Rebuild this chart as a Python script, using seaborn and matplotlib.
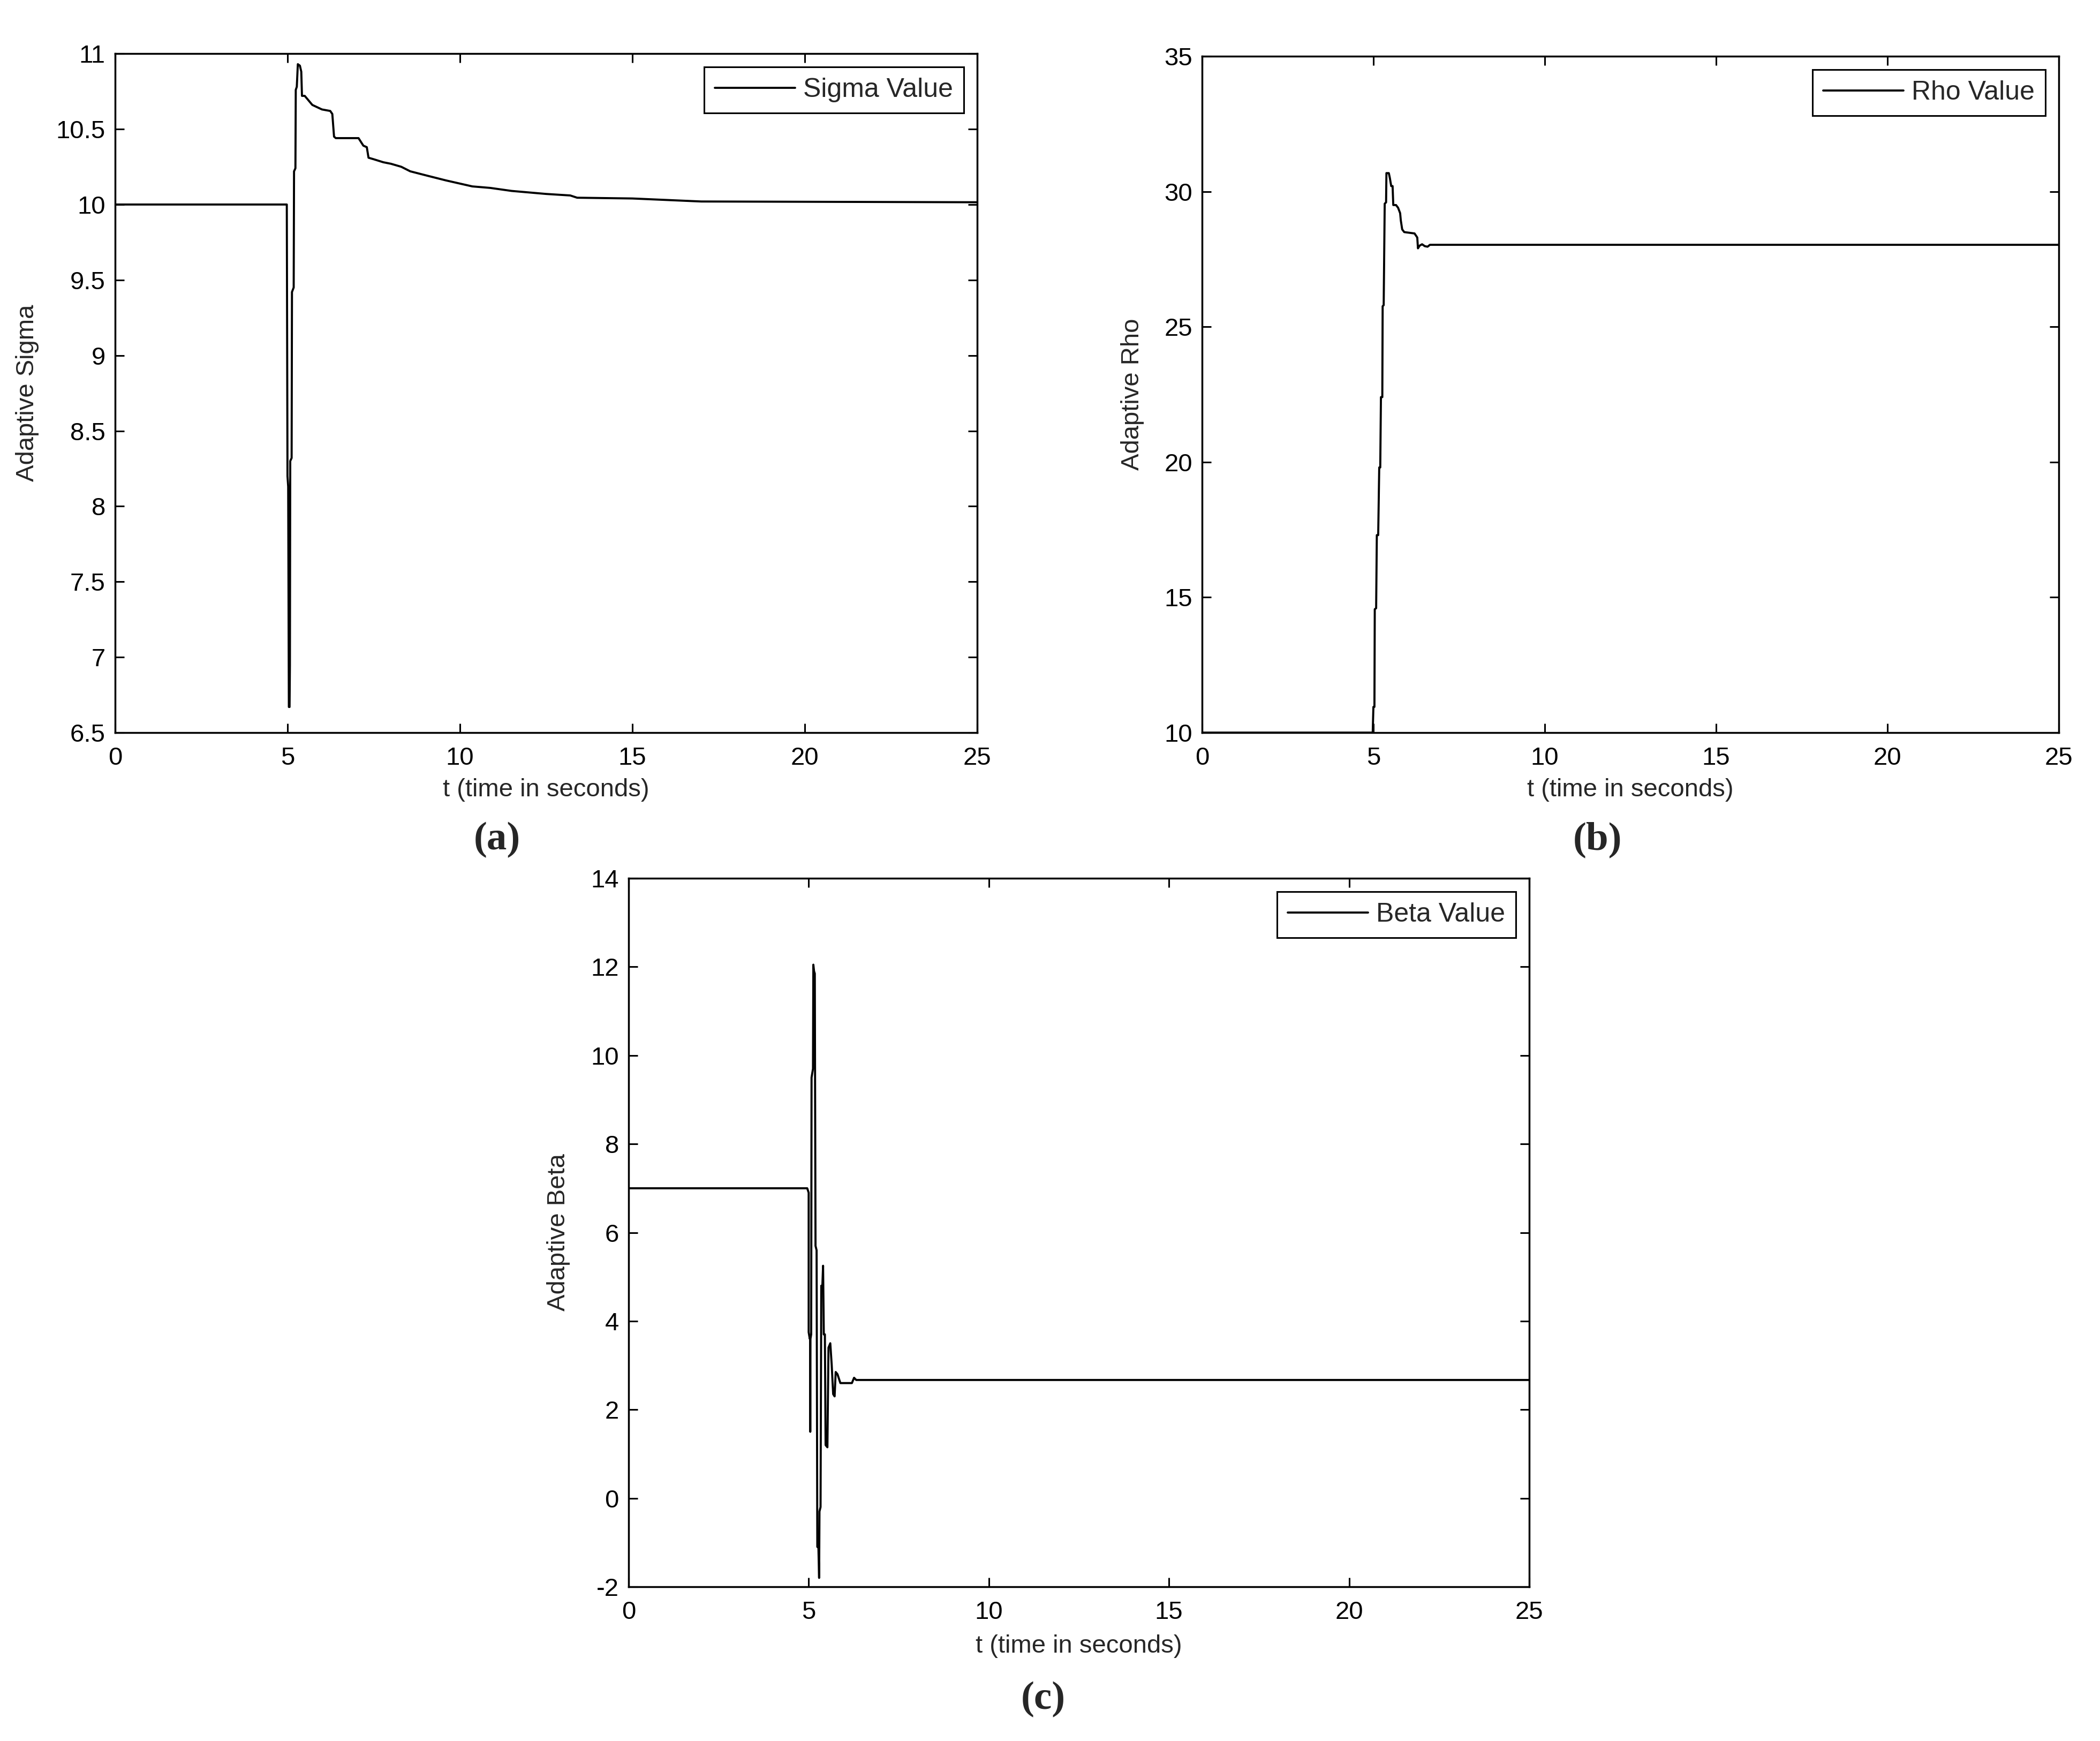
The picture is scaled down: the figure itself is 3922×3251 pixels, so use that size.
import numpy as np
import pandas as pd
import seaborn as sns
import matplotlib.pyplot as plt
from matplotlib.ticker import FormatStrFormatter

# adaptive sigma (panel a)
sigma_t = [0, 4.98, 5.0, 5.02, 5.04, 5.06, 5.07, 5.08, 5.12, 5.13, 5.18, 5.19, 5.23, 5.24,
           5.27, 5.3, 5.36, 5.4, 5.42, 5.5, 5.72, 6.0, 6.24, 6.3, 6.35, 6.4, 6.65, 7.06, 7.2,
           7.3, 7.35, 7.5, 7.78, 8.0, 8.3, 8.56, 9.07, 9.59, 10.36, 10.88, 11.5, 12.5, 13.2,
           13.4, 15.0, 17.0, 25.0]
sigma_v = [10.0, 10.0, 8.2, 8.13, 6.67, 6.67, 6.95, 8.3, 8.32, 9.42, 9.45, 10.22, 10.24, 10.76,
           10.78, 10.93, 10.92, 10.88, 10.72, 10.72, 10.66, 10.63, 10.62, 10.6, 10.45, 10.44,
           10.44, 10.44, 10.39, 10.38, 10.31, 10.30, 10.28, 10.27, 10.25, 10.22, 10.19, 10.16,
           10.12, 10.11, 10.09, 10.07, 10.06, 10.045, 10.04, 10.02, 10.015]

# adaptive rho (panel b)
rho_t = [0, 4.98, 5.0, 5.03, 5.04, 5.08, 5.1, 5.14, 5.17, 5.2, 5.22, 5.26, 5.27, 5.3, 5.33,
         5.37, 5.38, 5.45, 5.48, 5.52, 5.56, 5.58, 5.66, 5.72, 5.78, 5.8, 5.84, 5.9, 6.2,
         6.28, 6.3, 6.35, 6.42, 6.5, 6.58, 6.65, 6.72, 25.0]
rho_v = [10, 10, 10.95, 10.95, 14.56, 14.6, 17.3, 17.3, 19.8, 19.8, 22.4, 22.4, 25.76, 25.8,
         29.55, 29.6, 30.68, 30.68, 30.5, 30.2, 30.2, 29.5, 29.5, 29.4, 29.2, 28.93, 28.6,
         28.5, 28.45, 28.3, 27.9, 28.0, 28.05, 27.98, 27.96, 28.03, 28.03, 28.03]

# adaptive beta (panel c)
beta_t = [0, 4.96, 5.0, 5.0, 5.03, 5.04, 5.045, 5.05, 5.07, 5.08, 5.12, 5.13, 5.15, 5.17,
          5.19, 5.22, 5.24, 5.27, 5.29, 5.3, 5.33, 5.35, 5.38, 5.4, 5.42, 5.45, 5.47, 5.52,
          5.55, 5.6, 5.64, 5.68, 5.72, 5.75, 5.8, 5.88, 6.0, 6.2, 6.26, 6.32, 25.0]
beta_v = [7.0, 7.0, 6.9, 3.75, 3.6, 3.65, 1.5, 3.6, 3.7, 9.5, 9.7, 12.05, 11.9, 11.85,
          5.7, 5.6, -1.1, -1.1, -1.8, -0.3, -0.2, 4.8, 4.8, 5.25, 3.7, 3.7, 1.2, 1.15,
          3.4, 3.5, 3.0, 2.35, 2.3, 2.85, 2.8, 2.6, 2.6, 2.6, 2.72, 2.67, 2.67]

xticks = [0, 5, 10, 15, 20, 25]

panels = [
    dict(t=sigma_t, v=sigma_v, name="Sigma Value", ylabel="Adaptive Sigma",
         yticks=np.arange(6.5, 11.01, 0.5), ylim=(6.5, 11), tag="(a)",
         rect=[0.0548, 0.5792, 0.4105, 0.3900], ylab_x=-0.088, tagpos=(0.2366, 0.5177)),
    dict(t=rho_t, v=rho_v, name="Rho Value", ylabel="Adaptive Rho",
         yticks=np.arange(10, 36, 5), ylim=(10, 35), tag="(b)",
         rect=[0.5724, 0.5792, 0.4080, 0.3885], ylab_x=-0.0675, tagpos=(0.7608, 0.5177)),
    dict(t=beta_t, v=beta_v, name="Beta Value", ylabel="Adaptive Beta",
         yticks=np.arange(-2, 15, 2), ylim=(-2, 14), tag="(c)",
         rect=[0.2993, 0.0886, 0.4289, 0.4069], ylab_x=-0.065, tagpos=(0.4967, 0.0240)),
]

sns.set_style("ticks")
plt.rcParams['font.family'] = ['Liberation Sans', 'DejaVu Sans']
plt.rcParams['axes.unicode_minus'] = False

fig = plt.figure(figsize=(39.22, 32.51), dpi=100)

for p in panels:
    ax = fig.add_axes(p["rect"])
    df = pd.DataFrame({"t": p["t"], "v": p["v"]})
    sns.lineplot(data=df, x="t", y="v", ax=ax, color="black", linewidth=2.8,
                 estimator=None, sort=False, label=p["name"])
    ax.set_xlim(0, 25)
    ax.set_ylim(*p["ylim"])
    ax.set_xticks(xticks)
    ax.set_yticks(p["yticks"])
    ax.yaxis.set_major_formatter(FormatStrFormatter('%g'))
    for s in ax.spines.values():
        s.set_visible(True)
        s.set_linewidth(2.5)
        s.set_color("black")
    ax.tick_params(direction="in", top=True, right=True, length=12, width=2.2,
                   labelsize=34, colors="black")
    ax.tick_params(axis="x", pad=19)
    ax.tick_params(axis="y", pad=13)
    ax.set_xlabel("t (time in seconds)", fontsize=34)
    ax.set_ylabel(p["ylabel"], fontsize=34)
    ax.xaxis.set_label_coords(0.5, -0.067)
    ax.yaxis.set_label_coords(p["ylab_x"], 0.5)
    leg = ax.legend(loc="upper right", fontsize=36, frameon=True, fancybox=False,
                    handlelength=3.0, handletextpad=0.3, borderpad=0.4,
                    borderaxespad=0.5)
    leg.get_frame().set_edgecolor("black")
    leg.get_frame().set_linewidth(2.2)
    leg.get_frame().set_alpha(1)
    fig.text(p["tagpos"][0], p["tagpos"][1], p["tag"], ha="center", va="center",
             fontsize=54, fontweight="bold", family=["Liberation Serif", "DejaVu Serif"])

fig.savefig("out.png", dpi=100, facecolor="white")
